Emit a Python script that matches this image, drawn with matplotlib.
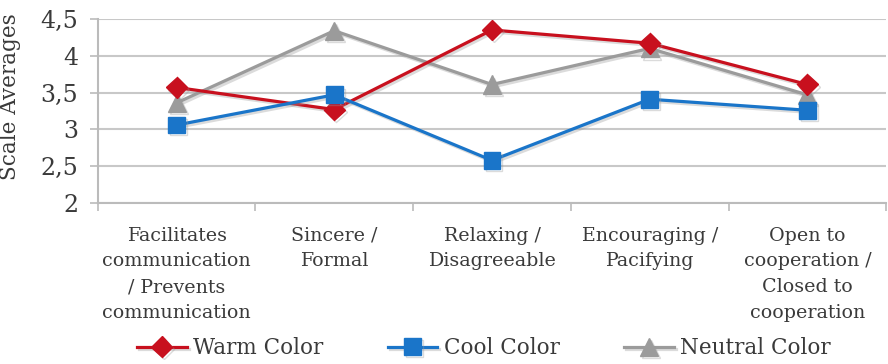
import matplotlib
matplotlib.use("Agg")
import matplotlib.pyplot as plt
import matplotlib.patheffects as pe
import numpy as np

categories = ["Facilitates\ncommunication\n/ Prevents\ncommunication",
              "Sincere /\nFormal",
              "Relaxing /\nDisagreeable",
              "Encouraging /\nPacifying",
              "Open to\ncooperation /\nClosed to\ncooperation"]
warm = [3.57, 3.27, 4.35, 4.17, 3.61]
cool = [3.06, 3.47, 2.58, 3.41, 3.26]
neutral = [3.36, 4.34, 3.61, 4.10, 3.47]
yticks = [2, 2.5, 3, 3.5, 4, 4.5]
ytick_labels = ["2", "2,5", "3", "3,5", "4", "4,5"]

plt.rcParams['font.family'] = ['DejaVu Serif']

fig = plt.figure(figsize=(8.88, 3.64), dpi=100)
ax = fig.add_axes([0.110, 0.442, 0.888, 0.506])

x = np.arange(len(categories))
shadow = [pe.SimpleLineShadow(offset=(1.5, -1.5), shadow_color='0.6', alpha=0.35), pe.Normal()]

ax.plot(x, neutral, color='#9b9b9b', lw=2.3, marker='^', ms=13, label='Neutral Color',
        path_effects=shadow, zorder=3)
ax.plot(x, warm, color='#c8101e', lw=2.3, marker='D', ms=10.5, label='Warm Color',
        path_effects=shadow, zorder=4)
ax.plot(x, cool, color='#1a75c9', lw=2.3, marker='s', ms=12, label='Cool Color',
        path_effects=shadow, zorder=5)

ax.set_ylim(2, 4.5)
ax.set_xlim(-0.5, len(categories) - 0.5)
ax.set_yticks(yticks)
ax.set_yticklabels(ytick_labels, fontsize=17, color='#3a3a3a')
ax.set_xticks(x)
ax.set_xticklabels(categories, fontsize=13.7, color='#3a3a3a', linespacing=1.55)
ax.set_xticks(np.arange(-0.5, len(categories)), minor=True)
ax.tick_params(axis='x', which='major', length=0, pad=17)
ax.tick_params(axis='x', which='minor', length=6, color='#bbbbbb', width=1.2, direction='out')
ax.tick_params(axis='y', length=6, color='#bbbbbb', width=1.2, pad=8)
ax.yaxis.grid(True, color='#c8c8c8', lw=1.5)
ax.set_axisbelow(True)
for s in ['top', 'right']:
    ax.spines[s].set_visible(False)
for s in ['left', 'bottom']:
    ax.spines[s].set_color('#bbbbbb')
    ax.spines[s].set_linewidth(1.5)
ax.set_ylabel('Scale Averages', fontsize=15.5, color='#3a3a3a')
ax.yaxis.set_label_coords(-0.097, 0.58)

handles, labels = ax.get_legend_handles_labels()
order = [1, 2, 0]
leg = fig.legend([handles[i] for i in order], [labels[i] for i in order],
                 loc='lower center', bbox_to_anchor=(0.545, -0.04), ncol=3,
                 frameon=False, fontsize=15.5, handlelength=2.3, columnspacing=3.0,
                 handletextpad=0.3)
for t in leg.get_texts():
    t.set_color('#3a3a3a')

fig.savefig('out.png', dpi=100)
